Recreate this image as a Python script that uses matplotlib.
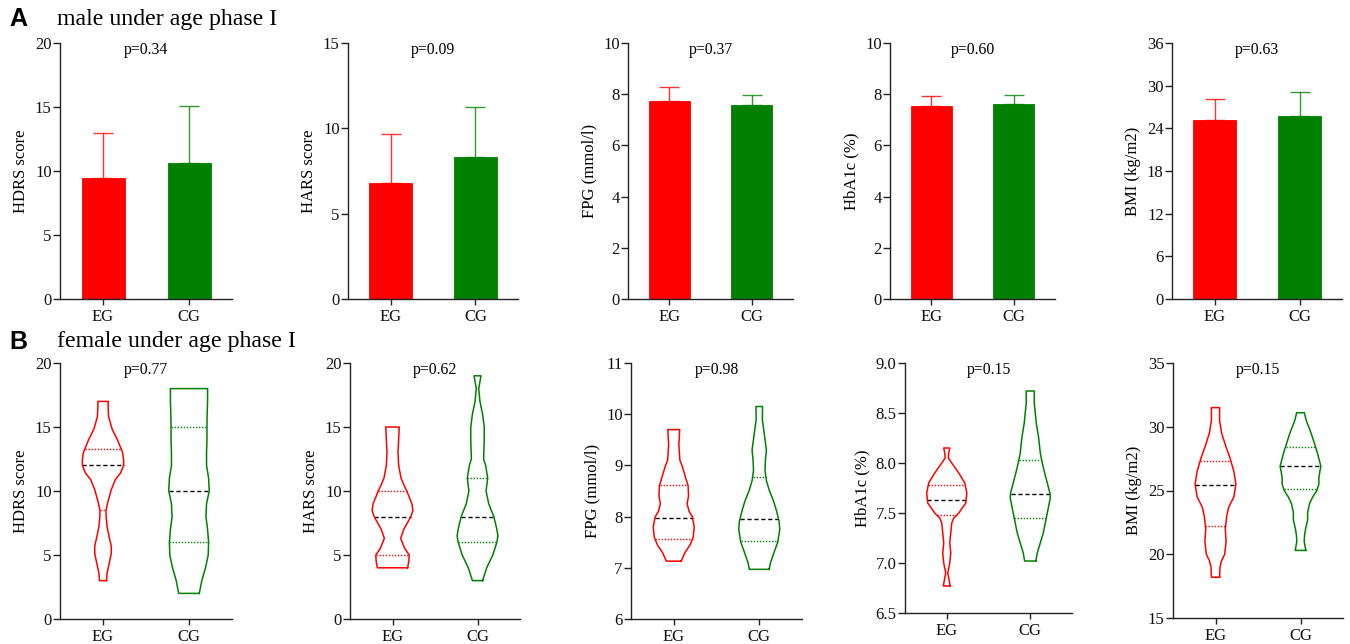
import numpy as np
import matplotlib
matplotlib.use("Agg")
import matplotlib.pyplot as plt

plt.rcParams['font.family'] = ['Liberation Serif', 'DejaVu Serif']

W, H = 1350, 644
RED = "#FF0000"
GREEN = "#008000"
AXC = "#222222"

groups = ["EG", "CG"]

# ---------------- top row: bar charts (mean + SD) ----------------
bar_ylabels = ["HDRS score", "HARS score", "FPG (mmol/l)", "HbA1c (%)", "BMI (kg/m2)"]
bar_pvalues = ["p=0.34", "p=0.09", "p=0.37", "p=0.60", "p=0.63"]
eg_mean = [9.45, 6.79, 7.73, 7.52, 25.2]
eg_sd = [3.53, 2.85, 0.57, 0.42, 2.9]
cg_mean = [10.61, 8.31, 7.59, 7.60, 25.7]
cg_sd = [4.46, 2.94, 0.39, 0.35, 3.45]
bar_ymax = [20, 15, 10, 10, 36]
bar_ystep = [5, 5, 2, 2, 6]

# ---------------- bottom row: violin plots ----------------
vio_ylabels = ["HDRS score", "HARS score", "FPG (mmol/l)", "HbA1c (%)", "BMI (kg/m2)"]
vio_pvalues = ["p=0.77", "p=0.62", "p=0.98", "p=0.15", "p=0.15"]
vio_ylim = [(0, 20), (0, 20), (6, 11), (6.5, 9.0), (15, 35)]
vio_ystep = [5, 5, 1, 0.5, 5]

# density profiles (value, relative width)
hdrs_eg_val = [3.0, 3.6, 4.35, 5.1, 5.7, 6.4, 7.2, 8.0, 8.5, 9.05, 10.1, 10.9, 11.4, 12.0, 12.4, 13.0, 14.0, 14.8, 15.8, 16.5, 17.0]
hdrs_eg_den = [0.17, 0.2, 0.3, 0.4, 0.4, 0.3, 0.2, 0.15, 0.15, 0.22, 0.4, 0.6, 0.85, 1.0, 1.0, 0.95, 0.7, 0.45, 0.27, 0.25, 0.25]
hdrs_cg_val = [2.0, 3.0, 4.0, 5.0, 6.0, 7.0, 8.0, 9.0, 10.0, 11.0, 12.0, 13.0, 14.0, 15.0, 16.0, 17.0, 18.0]
hdrs_cg_den = [0.5, 0.62, 0.8, 0.93, 0.95, 0.9, 0.82, 0.85, 0.98, 0.95, 0.85, 0.85, 0.87, 0.87, 0.88, 0.9, 0.9]
hars_eg_val = [4.0, 4.5, 5.0, 5.5, 6.3, 7.0, 8.0, 8.5, 9.0, 10.0, 10.5, 11.0, 12.0, 13.0, 14.0, 15.0]
hars_eg_den = [0.74, 0.8, 0.82, 0.6, 0.4, 0.55, 0.9, 1.0, 0.95, 0.7, 0.55, 0.42, 0.3, 0.27, 0.3, 0.33]
hars_cg_val = [3.0, 4.0, 5.0, 6.0, 6.5, 7.0, 8.0, 9.0, 10.0, 11.0, 12.0, 12.5, 14.0, 15.0, 16.0, 17.0, 18.0, 19.0]
hars_cg_den = [0.25, 0.45, 0.75, 0.95, 1.0, 0.95, 0.8, 0.55, 0.42, 0.5, 0.4, 0.3, 0.33, 0.33, 0.25, 0.12, 0.06, 0.17]
fpg_eg_val = [7.13, 7.3, 7.45, 7.6, 7.8, 8.0, 8.1, 8.25, 8.4, 8.6, 8.8, 9.0, 9.1, 9.4, 9.7]
fpg_eg_den = [0.36, 0.55, 0.8, 0.95, 1.0, 0.9, 0.75, 0.65, 0.72, 0.7, 0.55, 0.4, 0.3, 0.25, 0.29]
fpg_cg_val = [6.97, 7.1, 7.3, 7.5, 7.75, 7.9, 8.1, 8.3, 8.5, 8.7, 8.9, 9.1, 9.3, 9.6, 9.9, 10.15]
fpg_cg_den = [0.48, 0.55, 0.72, 0.9, 1.0, 0.97, 0.85, 0.7, 0.5, 0.35, 0.28, 0.3, 0.35, 0.25, 0.15, 0.16]
hba_eg_val = [6.77, 6.85, 6.9, 7.0, 7.1, 7.2, 7.3, 7.4, 7.45, 7.5, 7.6, 7.7, 7.8, 7.9, 8.0, 8.05, 8.1, 8.15]
hba_eg_den = [0.17, 0.1, 0.05, 0.15, 0.2, 0.15, 0.2, 0.25, 0.35, 0.6, 0.95, 1.0, 0.9, 0.6, 0.25, 0.08, 0.1, 0.15]
hba_cg_val = [7.02, 7.1, 7.2, 7.3, 7.45, 7.55, 7.65, 7.7, 7.8, 7.9, 8.0, 8.1, 8.25, 8.4, 8.6, 8.72]
hba_cg_den = [0.28, 0.35, 0.5, 0.65, 0.8, 0.9, 1.0, 0.98, 0.85, 0.72, 0.6, 0.5, 0.42, 0.3, 0.2, 0.2]
bmi_eg_val = [18.2, 19.0, 19.5, 20.0, 21.0, 22.0, 23.0, 23.7, 24.5, 25.5, 26.5, 27.5, 28.5, 29.5, 30.5, 31.5]
bmi_eg_den = [0.2, 0.22, 0.3, 0.45, 0.52, 0.48, 0.55, 0.65, 0.9, 1.0, 0.9, 0.72, 0.5, 0.3, 0.2, 0.2]
bmi_cg_val = [20.3, 21.0, 21.5, 22.0, 22.7, 23.3, 24.0, 24.5, 25.0, 25.5, 26.0, 26.5, 26.9, 27.5, 28.0, 28.5, 29.0, 29.5, 30.0, 30.5, 31.1]
bmi_cg_den = [0.26, 0.18, 0.2, 0.25, 0.35, 0.35, 0.45, 0.6, 0.8, 0.9, 0.9, 0.95, 1.0, 0.9, 0.82, 0.72, 0.62, 0.52, 0.4, 0.28, 0.19]

vio_eg_profiles = [(hdrs_eg_val, hdrs_eg_den), (hars_eg_val, hars_eg_den), (fpg_eg_val, fpg_eg_den),
                   (hba_eg_val, hba_eg_den), (bmi_eg_val, bmi_eg_den)]
vio_cg_profiles = [(hdrs_cg_val, hdrs_cg_den), (hars_cg_val, hars_cg_den), (fpg_cg_val, fpg_cg_den),
                   (hba_cg_val, hba_cg_den), (bmi_cg_val, bmi_cg_den)]

# quartiles (Q1, median, Q3)
eg_quart = [(8.5, 12.0, 13.25), (5.0, 8.0, 10.0), (7.57, 7.97, 8.62), (7.48, 7.63, 7.78), (22.2, 25.45, 27.3)]
cg_quart = [(6.0, 10.0, 15.0), (6.0, 8.0, 11.0), (7.52, 7.96, 8.77), (7.45, 7.69, 8.03), (25.1, 26.9, 28.45)]

# ---------------- layout (pixel boxes) ----------------
top_x = [(60, 232), (348, 518), (628, 793), (890, 1055), (1172, 1342)]
top_y = [(43, 299)] * 5
bot_x = [(60, 232), (350, 520), (631, 802), (905, 1072), (1173, 1343)]
bot_y = [(363, 619), (363, 619), (363, 619), (363, 613), (363, 618)]


def make_ax(fig, xr, yr):
    x0, x1 = xr
    y0, y1 = yr
    return fig.add_axes([x0 / W, 1 - y1 / H, (x1 - x0) / W, (y1 - y0) / H])


def style_ax(ax, ylabel, ptext):
    for s in ["top", "right"]:
        ax.spines[s].set_visible(False)
    for s in ["left", "bottom"]:
        ax.spines[s].set_color(AXC)
        ax.spines[s].set_linewidth(1.0)
    ax.tick_params(axis="y", direction="out", length=5, width=1.0, color=AXC,
                   labelsize=12, pad=1, labelcolor="#111111")
    ax.tick_params(axis="x", direction="out", length=4.5, width=1.0, color=AXC,
                   labelsize=12, pad=3, labelcolor="#111111")
    ax.set_xlim(-0.5, 1.5)
    ax.set_xticks([0, 1])
    ax.set_xticklabels(groups)
    ax.set_ylabel(ylabel, fontsize=12, labelpad=4)
    ax.text(0.5, 0.972, ptext, transform=ax.transAxes, ha="center", va="center", fontsize=11.3)


fig = plt.figure(figsize=(W / 100, H / 100), dpi=100)

for i in range(5):
    ax = make_ax(fig, top_x[i], top_y[i])
    means = [eg_mean[i], cg_mean[i]]
    sds = [eg_sd[i], cg_sd[i]]
    cols = [RED, GREEN]
    for j in range(2):
        ax.bar(j, means[j], width=0.5, color=cols[j], edgecolor=cols[j], linewidth=0.6, zorder=2)
        ax.errorbar(j, means[j], yerr=[[0], [sds[j]]], fmt="none", ecolor=cols[j],
                    elinewidth=1.0, capsize=7.5, capthick=1.0, alpha=0.8, zorder=1)
    ax.set_ylim(0, bar_ymax[i])
    ticks = np.arange(0, bar_ymax[i] + 0.01, bar_ystep[i])
    ax.set_yticks(ticks)
    ax.set_yticklabels([f"{v:g}" for v in ticks])
    style_ax(ax, bar_ylabels[i], bar_pvalues[i])

VW = 0.24
for i in range(5):
    ax = make_ax(fig, bot_x[i], bot_y[i])
    profs = [vio_eg_profiles[i], vio_cg_profiles[i]]
    quarts = [eg_quart[i], cg_quart[i]]
    cols = [RED, GREEN]
    for j in range(2):
        vals = np.array(profs[j][0])
        den = np.array(profs[j][1])
        xs = np.concatenate([j + VW * den, (j - VW * den)[::-1], [j + VW * den[0]]])
        ys = np.concatenate([vals, vals[::-1], [vals[0]]])
        ax.plot(xs, ys, color=cols[j], lw=1.1, solid_joinstyle="round", zorder=3)
        q1, med, q3 = quarts[j]
        for q, ls, c in [(q1, (0, (1, 1.2)), cols[j]), (q3, (0, (1, 1.2)), cols[j]),
                         (med, (0, (3, 2)), "black")]:
            w = VW * np.interp(q, vals, den)
            ax.plot([j - w, j + w], [q, q], color=c, lw=1.0, linestyle=ls, zorder=2)
    lo, hi = vio_ylim[i]
    ax.set_ylim(lo, hi)
    ticks = np.arange(lo, hi + 1e-6, vio_ystep[i])
    ax.set_yticks(ticks)
    if vio_ystep[i] < 1:
        ax.set_yticklabels([f"{v:.1f}" for v in ticks])
    else:
        ax.set_yticklabels([f"{v:g}" for v in ticks])
    style_ax(ax, vio_ylabels[i], vio_pvalues[i])

# panel letters and titles
fig.text(9 / W, 1 - 19 / H, "A", fontsize=18, fontweight="bold", family=["Liberation Sans"], va="center", ha="left")
fig.text(57 / W, 1 - 19 / H, "male under age phase I", fontsize=17.2, va="center", ha="left")
fig.text(9 / W, 1 - 342 / H, "B", fontsize=18, fontweight="bold", family=["Liberation Sans"], va="center", ha="left")
fig.text(57 / W, 1 - 342 / H, "female under age phase I", fontsize=17.2, va="center", ha="left")

fig.savefig("out.png", dpi=100)
